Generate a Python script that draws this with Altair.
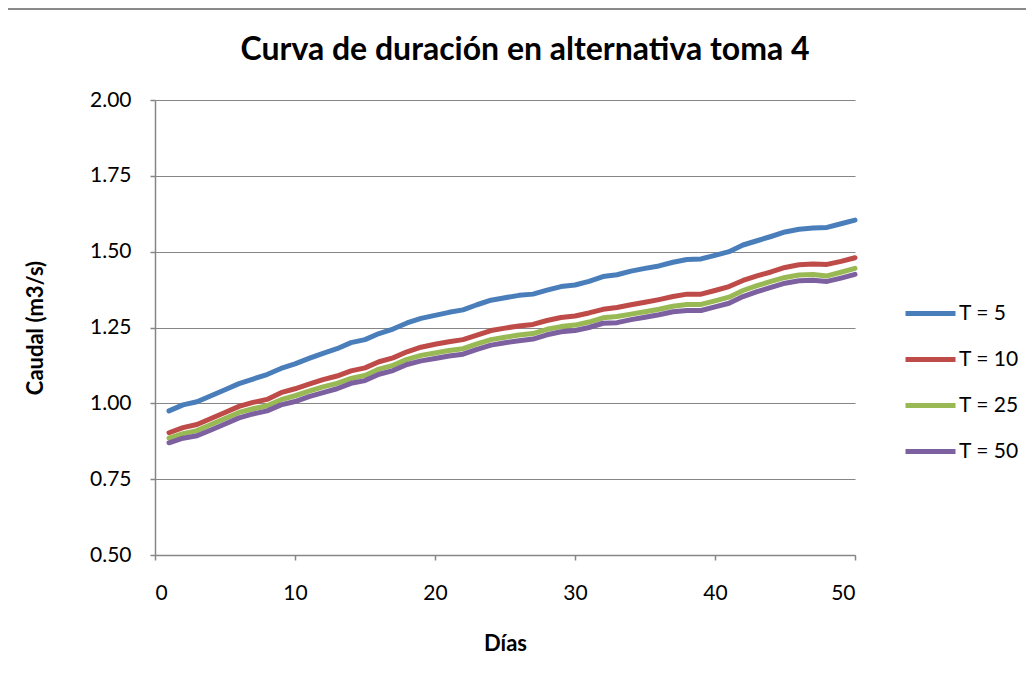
import altair as alt
import pandas as pd

days = list(range(1, 51))
t5 = [0.975, 0.995, 1.005, 1.025, 1.045, 1.065, 1.080, 1.095, 1.115, 1.130,
      1.148, 1.165, 1.180, 1.200, 1.210, 1.230, 1.245, 1.265, 1.280, 1.290,
      1.300, 1.308, 1.325, 1.340, 1.348, 1.356, 1.360, 1.373, 1.385, 1.390,
      1.402, 1.418, 1.424, 1.436, 1.445, 1.453, 1.465, 1.474, 1.476, 1.488,
      1.500, 1.522, 1.536, 1.550, 1.565, 1.574, 1.578, 1.580, 1.592, 1.604]
t10 = [0.903, 0.920, 0.930, 0.950, 0.970, 0.990, 1.003, 1.013, 1.035, 1.048,
       1.063, 1.078, 1.090, 1.107, 1.117, 1.137, 1.150, 1.170, 1.185, 1.195,
       1.203, 1.210, 1.225, 1.240, 1.248, 1.255, 1.260, 1.273, 1.283, 1.288,
       1.298, 1.310, 1.316, 1.325, 1.333, 1.342, 1.352, 1.360, 1.360, 1.372,
       1.385, 1.405, 1.420, 1.433, 1.448, 1.457, 1.459, 1.458, 1.468, 1.480]
t25 = [0.885, 0.900, 0.910, 0.930, 0.950, 0.970, 0.982, 0.992, 1.012, 1.025,
       1.040, 1.054, 1.066, 1.082, 1.092, 1.113, 1.125, 1.145, 1.158, 1.166,
       1.174, 1.180, 1.196, 1.210, 1.218, 1.225, 1.230, 1.244, 1.253, 1.258,
       1.268, 1.282, 1.286, 1.294, 1.302, 1.310, 1.320, 1.326, 1.326, 1.338,
       1.350, 1.372, 1.388, 1.402, 1.415, 1.423, 1.425, 1.420, 1.432, 1.445]
t50 = [0.870, 0.885, 0.893, 0.912, 0.932, 0.952, 0.965, 0.975, 0.995, 1.006,
       1.022, 1.035, 1.048, 1.066, 1.075, 1.096, 1.108, 1.128, 1.140, 1.148,
       1.156, 1.162, 1.178, 1.192, 1.200, 1.206, 1.212, 1.226, 1.236, 1.240,
       1.250, 1.264, 1.266, 1.276, 1.284, 1.292, 1.302, 1.306, 1.306, 1.318,
       1.330, 1.352, 1.368, 1.382, 1.396, 1.404, 1.406, 1.402, 1.413, 1.425]

series_names = ["T = 5", "T = 10", "T = 25", "T = 50"]
series_vals = [t5, t10, t25, t50]
colors = ["#4A7EBB", "#BE4B48", "#98B954", "#7D60A0"]
x_ticks = [0, 10, 20, 30, 40, 50]
y_ticks = [0.5, 0.75, 1.0, 1.25, 1.5, 1.75, 2.0]
title_text = "Curva de duración en alternativa toma 4"

rows = []
for name, vals in zip(series_names, series_vals):
    for d, v in zip(days, vals):
        rows.append({"Días": d, "Caudal": v, "Serie": name})
df = pd.DataFrame(rows)

FONT = "Lato"
GRID = "#868686"

lines = alt.Chart(df).mark_line(strokeWidth=5, strokeCap="round", strokeJoin="round").encode(
    x=alt.X("Días:Q", scale=alt.Scale(domain=[0, 50], nice=False),
            axis=alt.Axis(values=x_ticks, title="Días", grid=False, tickSize=5,
                          labelPadding=22, titlePadding=30, format="d")),
    y=alt.Y("Caudal:Q", scale=alt.Scale(domain=[0.5, 2.0], nice=False),
            axis=alt.Axis(values=y_ticks, title="Caudal (m3/s)", format=".2f",
                          tickSize=5, labelPadding=19, titlePadding=42)),
    color=alt.Color("Serie:N", sort=series_names,
                    scale=alt.Scale(domain=series_names, range=colors),
                    legend=alt.Legend(title=None, orient="none", legendX=748, legendY=186,
                                      symbolType="stroke", symbolSize=2500,
                                      symbolStrokeWidth=5, labelFontSize=21,
                                      labelFont=FONT, labelColor="#000000",
                                      labelOffset=1, rowPadding=8)),
    order=alt.Order("Serie:N"),
)

border = alt.Chart(pd.DataFrame({"k": [0]})).mark_rect(
    fill=None, stroke="#8a8a8a", strokeWidth=2, clip=False
).encode(x=alt.value(-148), x2=alt.value(880), y=alt.value(-91), y2=alt.value(590))

title = alt.Chart(pd.DataFrame({"t": [title_text]})).mark_text(
    font=FONT, fontSize=32, fontWeight="bold", color="#000000",
    align="center", baseline="alphabetic", clip=False
).encode(text="t:N", x=alt.value(370), y=alt.value(-40))

chart = alt.layer(border, lines, title).properties(
    width=700, height=455,
    autosize=alt.AutoSizeParams(type="none"),
    padding={"left": 147, "top": 92, "right": 171, "bottom": 121},
).configure_view(stroke=None).configure_axis(
    labelFont=FONT, labelFontSize=21, labelColor="#000000",
    titleFont=FONT, titleFontSize=22, titleFontWeight="bold", titleColor="#000000",
    domainColor=GRID, tickColor=GRID, gridColor=GRID, domainWidth=1.5, gridWidth=1.2, tickWidth=1.5,
)

chart.save("out.html", embed_options={"renderer": "svg", "actions": False})
